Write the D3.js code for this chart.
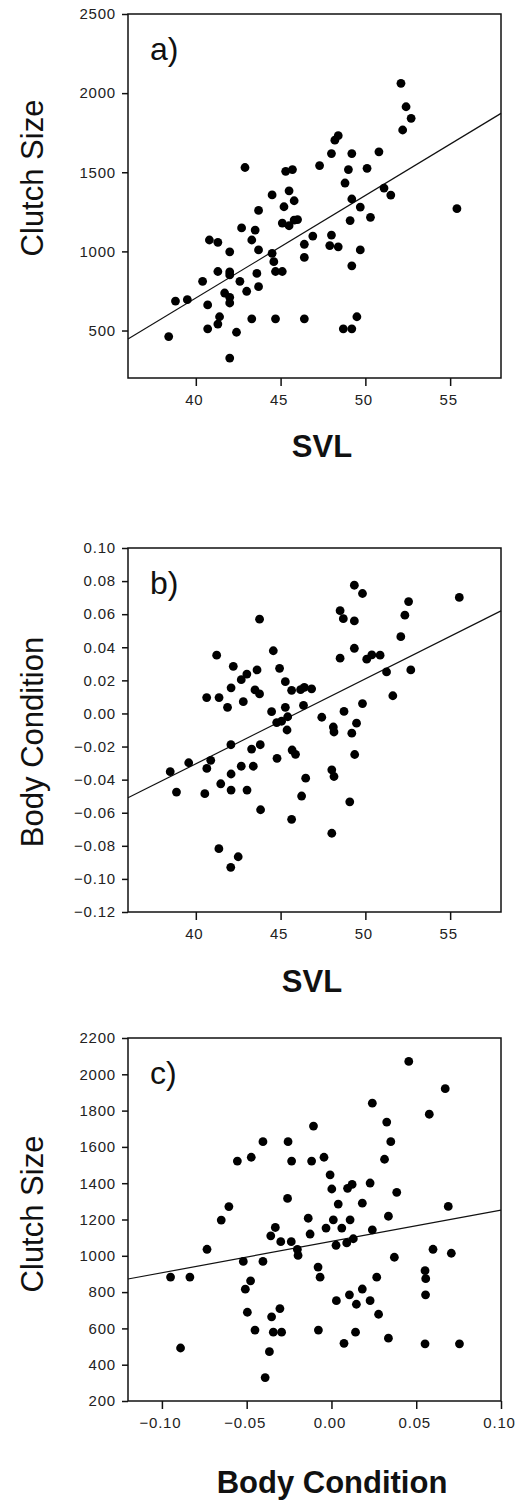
<!DOCTYPE html>
<html>
<head>
<meta charset="utf-8">
<script src="https://cdn.jsdelivr.net/npm/d3@7"></script>
<style>
  html, body { margin: 0; padding: 0; background: #fff; }
  svg { display: block; }
  text { font-family: "Liberation Sans", Arial, sans-serif; }
</style>
</head>
<body>
<svg id="chart" width="516" height="1500"></svg>
<script>
// ---------- Panel a: SVL vs Clutch Size ----------
const svlA = [52.1,52.4,52.7,52.2,48.2,48.4,48.0,49.2,50.8,42.9,47.3,49.0,50.1,45.3,45.7,48.8,45.5,44.5,45.8,49.2,
  51.1,51.5,45.2,49.7,55.4,43.7,45.1,45.5,45.8,46.0,49.1,50.3,42.7,43.5,43.3,46.9,46.4,48.0,47.9,48.4,
  40.8,41.3,42.0,43.7,44.5,44.6,46.4,49.7,49.2,41.3,42.0,42.0,44.7,45.1,43.6,40.4,42.6,43.7,43.0,41.7,
  42.0,42.0,38.8,39.5,40.7,43.3,44.7,46.4,49.5,41.4,41.3,40.7,42.4,48.7,49.2,38.4,42.0];
const clutchA = [2062,1914,1841,1767,1703,1731,1618,1618,1629,1530,1542,1517,1525,1506,1517,1432,1383,1357,1320,1331,
  1400,1356,1282,1280,1270,1259,1179,1162,1198,1201,1195,1215,1148,1135,1072,1097,1045,1103,1037,1029,
  1072,1057,997,1009,988,935,962,1009,909,873,870,851,873,873,861,811,811,777,748,737,
  710,674,686,695,662,574,574,574,587,587,541,511,489,511,511,462,326];
const fitA_x = [36, 58];
const fitA_y = [446, 1872];

// ---------- Panel b: SVL vs Body Condition ----------
const svlB = [49.35,49.83,55.54,52.55,52.33,48.51,48.70,49.35,43.76,52.09,49.35,44.57,48.51,50.08,50.38,50.87,41.23,42.21,44.94,43.61,
  43.01,42.68,51.25,52.68,45.28,43.49,43.76,45.65,46.18,46.40,46.83,42.08,40.64,41.37,51.62,42.80,41.87,46.35,45.28,49.83,
  44.47,48.74,47.43,44.77,45.06,45.42,49.48,48.11,48.15,45.38,49.20,42.07,43.29,43.80,45.68,45.88,49.37,44.79,39.58,40.88,
  40.65,38.49,42.08,42.68,43.39,48.02,48.15,46.48,41.47,38.86,40.53,42.08,43.02,46.24,49.08,43.82,45.65,48.02,41.36,42.50,42.06];
const bodyB = [0.0775,0.0725,0.0701,0.0676,0.0594,0.0621,0.0573,0.0559,0.0570,0.0464,0.0394,0.0379,0.0334,0.0328,0.0354,0.0352,0.0352,0.0285,0.0273,0.0263,
  0.0238,0.0204,0.0251,0.0263,0.0192,0.0142,0.0118,0.0140,0.0144,0.0158,0.0149,0.0155,0.0096,0.0096,0.0107,0.0071,0.0037,0.0049,0.0037,0.0060,
  0.0011,0.0012,-0.0023,-0.0055,-0.0047,-0.0020,-0.0059,-0.0082,-0.0112,-0.0100,-0.0119,-0.0189,-0.0215,-0.0189,-0.0221,-0.0247,-0.0248,-0.0271,-0.0298,-0.0283,
  -0.0332,-0.0352,-0.0366,-0.0319,-0.0319,-0.0341,-0.0381,-0.0391,-0.0425,-0.0475,-0.0485,-0.0463,-0.0463,-0.0499,-0.0534,-0.0582,-0.0640,-0.0724,-0.0817,-0.0866,-0.0930];
const fitB_x = [36, 58];
const fitB_y = [-0.051, 0.062];

// ---------- Panel c: Body Condition vs Clutch Size ----------
const bodyC = [0.0456,0.0671,0.0577,0.0241,0.0326,0.0350,0.0313,-0.0106,-0.0404,-0.0256,-0.0555,-0.0473,-0.0235,-0.0117,-0.0044,-0.0008,0.0002,0.0095,0.0122,0.0228,
  0.0385,-0.0259,-0.0605,-0.0650,0.0040,0.0182,0.0689,-0.0137,0.0011,0.0110,0.0336,-0.0331,-0.0358,-0.0299,-0.0237,-0.0201,-0.0197,-0.0032,0.0061,0.0241,
  -0.0126,0.0027,0.0090,0.0129,-0.0734,0.0371,0.0599,0.0707,-0.0520,-0.0404,-0.0949,-0.0835,-0.0079,-0.0067,0.0267,0.0552,0.0556,-0.0477,-0.0508,0.0182,
  0.0106,0.0147,0.0029,0.0228,0.0555,-0.0496,-0.0304,-0.0353,0.0278,-0.0451,-0.0343,-0.0294,-0.0077,0.0142,0.0336,0.0074,0.0552,0.0755,-0.0890,-0.0366,-0.0391];
const clutchC = [2071,1921,1780,1841,1737,1629,1532,1715,1629,1629,1522,1543,1522,1522,1543,1446,1368,1372,1393,1401,
  1350,1316,1271,1197,1285,1290,1272,1207,1198,1198,1218,1156,1110,1078,1078,1035,1002,1153,1153,1143,
  1120,1058,1071,1094,1036,992,1036,1014,969,969,883,883,938,882,882,918,874,862,816,817,
  785,733,753,753,785,689,709,664,678,591,579,579,591,579,546,518,515,515,492,472,329];
const fitC_x = [-0.12, 0.10];
const fitC_y = [872, 1252];

// ---------- Ticks ----------
const ticksA_x = [40, 45, 50, 55];
const ticksA_y = [500, 1000, 1500, 2000, 2500];
const ticksB_x = [40, 45, 50, 55];
const ticksB_y = [-0.12, -0.10, -0.08, -0.06, -0.04, -0.02, 0.00, 0.02, 0.04, 0.06, 0.08, 0.10];
const ticksC_x = [-0.10, -0.05, 0.00, 0.05, 0.10];
const ticksC_y = [200, 400, 600, 800, 1000, 1200, 1400, 1600, 1800, 2000, 2200];

const svg = d3.select("#chart");

const panels = [
  { tag: "a)", xs: svlA, ys: clutchA, fx: fitA_x, fy: fitA_y,
    xdom: [36, 58], ydom: [200, 2500], xt: ticksA_x, yt: ticksA_y,
    xfmt: d3.format("d"), yfmt: d3.format("d"),
    top: 14, bottom: 378, xlab: "SVL", xlabX: 322, xlabY: 457,
    ylab: "Clutch Size", ylabY: 178 },
  { tag: "b)", xs: svlB, ys: bodyB, fx: fitB_x, fy: fitB_y,
    xdom: [36, 58], ydom: [-0.12, 0.10], xt: ticksB_x, yt: ticksB_y,
    xfmt: d3.format("d"), yfmt: d3.format(".2f"),
    top: 548, bottom: 912, xlab: "SVL", xlabX: 312, xlabY: 992,
    ylab: "Body Condition", ylabY: 742 },
  { tag: "c)", xs: bodyC, ys: clutchC, fx: fitC_x, fy: fitC_y,
    xdom: [-0.12, 0.10], ydom: [200, 2200], xt: ticksC_x, yt: ticksC_y,
    xfmt: d3.format(".2f"), yfmt: d3.format("d"),
    top: 1038, bottom: 1401, xlab: "Body Condition", xlabX: 332, xlabY: 1493,
    ylab: "Clutch Size", ylabY: 1214 }
];

const left = 128, right = 501;

panels.forEach(p => {
  const x = d3.scaleLinear().domain(p.xdom).range([left, right]);
  const y = d3.scaleLinear().domain(p.ydom).range([p.bottom, p.top]);
  const g = svg.append("g");

  // frame
  g.append("rect")
    .attr("x", left).attr("y", p.top)
    .attr("width", right - left).attr("height", p.bottom - p.top)
    .attr("fill", "none").attr("stroke", "#111").attr("stroke-width", 1.5);

  // axes
  const xAxis = d3.axisBottom(x).tickValues(p.xt).tickFormat(p.xfmt).tickSize(8).tickPadding(8);
  const yAxis = d3.axisLeft(y).tickValues(p.yt).tickFormat(p.yfmt).tickSize(6).tickPadding(6);

  const gx = g.append("g").attr("transform", `translate(0,${p.bottom})`).call(xAxis);
  const gy = g.append("g").attr("transform", `translate(${left},0)`).call(yAxis);
  [gx, gy].forEach(ax => {
    ax.select(".domain").remove();
    ax.selectAll("line").attr("stroke", "#111").attr("stroke-width", 1.5);
    ax.selectAll("text").attr("fill", "#222")
      .style("font-size", "15px").style("letter-spacing", "0.8px")
      .style("font-family", "'Liberation Sans', Arial, sans-serif");
  });
  gx.selectAll("text").attr("dx", -2);

  // regression line
  g.append("line")
    .attr("x1", x(p.fx[0])).attr("y1", y(p.fy[0]))
    .attr("x2", x(p.fx[1])).attr("y2", y(p.fy[1]))
    .attr("stroke", "#111").attr("stroke-width", 1.2);

  // points
  g.append("g").selectAll("circle")
    .data(p.xs.map((v, i) => [v, p.ys[i]]))
    .join("circle")
    .attr("cx", d => x(d[0])).attr("cy", d => y(d[1]))
    .attr("r", 4.4).attr("fill", "#000");

  // panel tag
  g.append("text")
    .attr("x", 150).attr("y", p.top + 46)
    .attr("font-size", 32).attr("fill", "#111")
    .text(p.tag);

  // x label
  g.append("text")
    .attr("x", p.xlabX).attr("y", p.xlabY)
    .attr("text-anchor", "middle")
    .attr("font-size", 31).attr("font-weight", "bold").attr("fill", "#111")
    .text(p.xlab);

  // y label
  g.append("text")
    .attr("transform", `translate(43,${p.ylabY}) rotate(-90)`)
    .attr("text-anchor", "middle")
    .attr("font-size", 31).attr("fill", "#111")
    .text(p.ylab);
});
</script>
</body>
</html>
